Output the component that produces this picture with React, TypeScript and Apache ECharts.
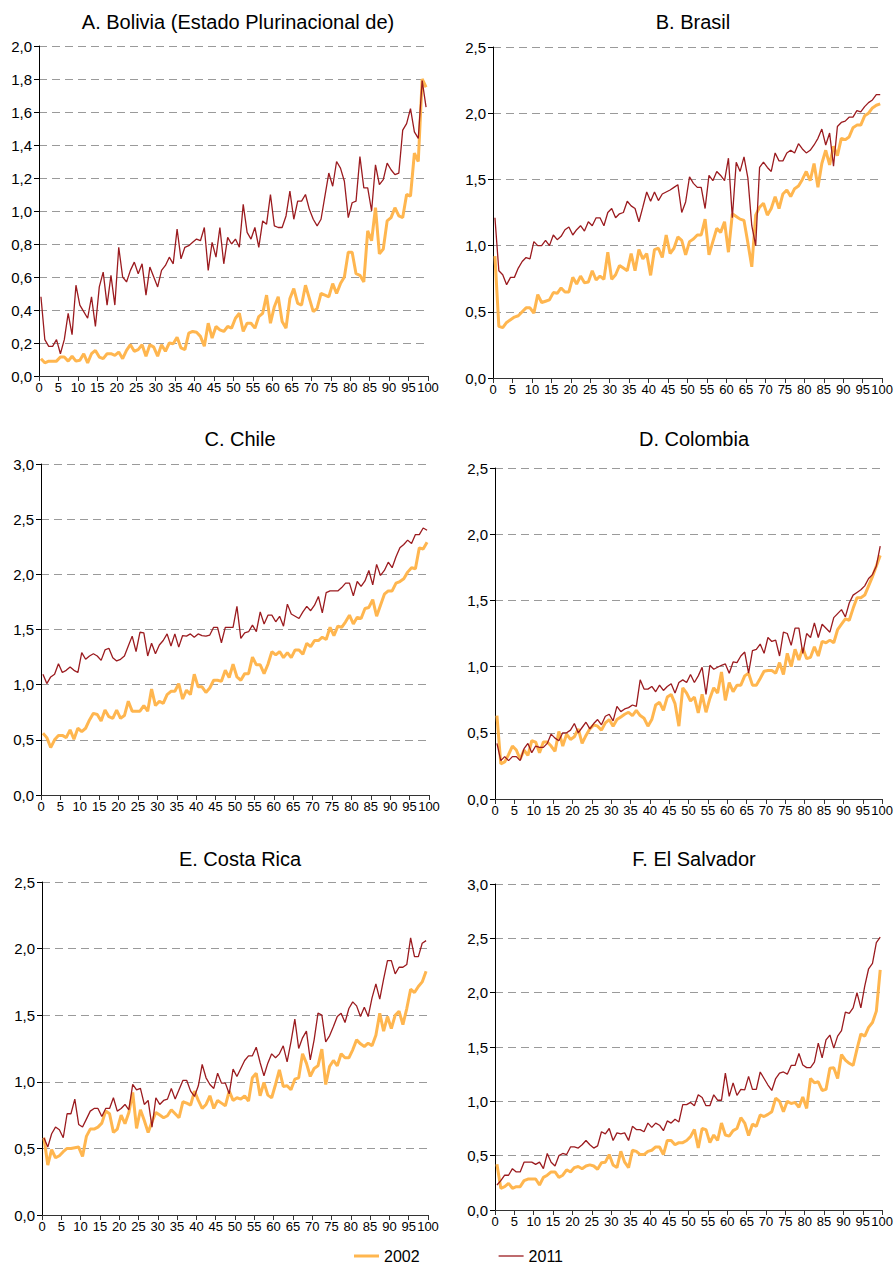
import React, { useEffect, useRef } from "react";
import * as echarts from "echarts";

// Percentile positions (centres of the 100 percentile bins)
const percentiles: number[] = Array.from({ length: 100 }, (_, i) => i + 0.5);
const xTicks: number[] = [0, 5, 10, 15, 20, 25, 30, 35, 40, 45, 50, 55, 60, 65, 70, 75, 80, 85, 90, 95, 100];

const seriesNames = ["2002", "2011"];
const titles = [
  "A. Bolivia (Estado Plurinacional de)",
  "B. Brasil",
  "C. Chile",
  "D. Colombia",
  "E. Costa Rica",
  "F. El Salvador",
];
const yMax = [2.0, 2.5, 3.0, 2.5, 2.5, 3.0];
const yStep = [0.2, 0.5, 0.5, 0.5, 0.5, 0.5];

const bolivia2002 = [
  0.105, 0.08, 0.09, 0.09, 0.09, 0.115, 0.115, 0.09, 0.12, 0.09, 0.095, 0.135, 0.08, 0.135, 0.155, 0.115, 0.105, 0.135, 0.135, 0.125,
  0.145, 0.105, 0.155, 0.19, 0.15, 0.16, 0.19, 0.12, 0.19, 0.175, 0.12, 0.19, 0.15, 0.2, 0.195, 0.235, 0.17, 0.16, 0.26, 0.27,
  0.265, 0.24, 0.18, 0.32, 0.23, 0.3, 0.28, 0.27, 0.3, 0.29, 0.35, 0.38,
  0.27, 0.32, 0.32, 0.29, 0.36, 0.38, 0.49, 0.32, 0.42, 0.48, 0.33, 0.29, 0.47, 0.53, 0.44, 0.43, 0.55, 0.47, 0.39, 0.41,
  0.5, 0.49, 0.48, 0.56, 0.5, 0.56, 0.6, 0.75, 0.75, 0.62, 0.61, 0.57, 0.88, 0.82, 1.02, 0.74, 0.77, 0.94, 0.96, 1.02,
  0.97, 0.96, 1.1, 1.09, 1.35, 1.3, 1.8, 1.75,
];
const bolivia2011 = [
  0.48, 0.22, 0.18, 0.18, 0.22, 0.135, 0.22, 0.38, 0.25, 0.55, 0.43, 0.39, 0.35, 0.48, 0.3, 0.54, 0.63, 0.43, 0.61, 0.43,
  0.78, 0.6, 0.57, 0.64, 0.69, 0.62, 0.68, 0.49, 0.66, 0.6, 0.54, 0.64, 0.67, 0.72, 0.68, 0.89, 0.71, 0.78, 0.79, 0.81,
  0.83, 0.82, 0.9, 0.64, 0.81, 0.72, 0.9, 0.68, 0.84, 0.8, 0.83, 0.78,
  1.04, 0.87, 0.83, 0.9, 0.78, 0.94, 0.92, 1.1, 0.91, 0.9, 0.9, 0.97, 1.12, 0.95, 1.06, 1.06, 1.1, 1.01, 0.95, 0.91,
  0.95, 1.09, 1.23, 1.15, 1.3, 1.26, 1.18, 0.96, 1.05, 1.06, 1.33, 1.14, 1.14, 1.0, 1.28, 1.16, 1.19, 1.29, 1.25, 1.22,
  1.23, 1.49, 1.53, 1.62, 1.48, 1.44, 1.79, 1.63,
];
const brasil2002 = [
  0.92, 0.39, 0.38, 0.42, 0.44, 0.46, 0.47, 0.5, 0.53, 0.53, 0.49, 0.63, 0.57, 0.58, 0.59, 0.645, 0.64, 0.68, 0.65, 0.65,
  0.76, 0.71, 0.77, 0.72, 0.725, 0.81, 0.74, 0.77, 0.745, 0.95, 0.745, 0.78, 0.85, 0.83, 0.81, 0.94, 0.81, 0.97, 0.9, 0.94,
  0.775, 0.97, 0.98, 0.91, 1.08, 0.94, 0.98, 1.065, 1.04, 0.93, 1.03,
  1.05, 1.08, 1.08, 1.2, 0.93, 1.03, 1.13, 1.1, 1.18, 0.95, 1.24, 1.22, 1.2, 1.19, 1.02, 0.84, 1.23, 1.29, 1.32, 1.23,
  1.28, 1.37, 1.28, 1.39, 1.42, 1.37, 1.43, 1.45, 1.5, 1.56, 1.49, 1.62, 1.44, 1.62, 1.72, 1.61, 1.75, 1.68, 1.81, 1.8,
  1.82, 1.89, 1.91, 1.91, 1.98, 2.0, 2.04, 2.06, 2.07,
];
const brasil2011 = [
  1.21, 0.81, 0.78, 0.705, 0.76, 0.76, 0.83, 0.88, 0.91, 0.9, 1.03, 1.0, 1.0, 1.04, 1.0, 1.08, 1.045, 1.07, 1.12, 1.14,
  1.08, 1.12, 1.15, 1.11, 1.18, 1.15, 1.21, 1.21, 1.15, 1.25, 1.28, 1.21, 1.24, 1.25, 1.335, 1.3, 1.28, 1.18, 1.29, 1.405,
  1.335, 1.405, 1.34, 1.39, 1.405, 1.42, 1.44, 1.46, 1.25, 1.33, 1.52,
  1.47, 1.44, 1.44, 1.28, 1.53, 1.49, 1.56, 1.53, 1.49, 1.66, 1.21, 1.63, 1.56, 1.67, 1.51, 1.15, 1.0, 1.59, 1.63, 1.59,
  1.56, 1.7, 1.64, 1.64, 1.7, 1.72, 1.7, 1.77, 1.73, 1.7, 1.72, 1.76, 1.81, 1.88, 1.76, 1.85, 1.6, 1.9, 1.93, 1.94,
  1.97, 1.97, 2.02, 2.01, 2.05, 2.08, 2.1, 2.14, 2.14,
];
const chile2002 = [
  0.56, 0.52, 0.43, 0.5, 0.54, 0.54, 0.52, 0.59, 0.505, 0.605, 0.575, 0.605, 0.68, 0.74, 0.73, 0.67, 0.77, 0.71, 0.695, 0.77,
  0.695, 0.72, 0.85, 0.76, 0.76, 0.76, 0.81, 0.76, 0.96, 0.81, 0.85, 0.83, 0.91, 0.94, 0.94, 1.01, 0.87, 0.95, 0.91, 1.095,
  0.98, 0.98, 0.93, 0.97, 1.04, 1.04, 1.03, 1.13, 1.065, 1.185, 1.07, 1.04,
  1.1, 1.1, 1.25, 1.18, 1.18, 1.1, 1.185, 1.3, 1.27, 1.3, 1.245, 1.29, 1.245, 1.315, 1.315, 1.275, 1.375, 1.345, 1.4, 1.4,
  1.43, 1.41, 1.52, 1.445, 1.53, 1.52, 1.57, 1.63, 1.55, 1.61, 1.6, 1.69, 1.7, 1.77, 1.62, 1.72, 1.82, 1.85, 1.85, 1.92,
  1.935, 1.96, 2.02, 2.06, 2.05, 2.24, 2.23, 2.29,
];
const chile2011 = [
  1.095, 1.01, 1.07, 1.095, 1.19, 1.11, 1.13, 1.16, 1.13, 1.11, 1.29, 1.23, 1.26, 1.28, 1.26, 1.22, 1.315, 1.33, 1.245, 1.215,
  1.23, 1.26, 1.35, 1.44, 1.3, 1.475, 1.47, 1.26, 1.375, 1.28, 1.36, 1.4, 1.46, 1.35, 1.46, 1.34, 1.445, 1.44, 1.46, 1.43,
  1.46, 1.445, 1.44, 1.45, 1.52, 1.52, 1.38, 1.52, 1.52, 1.52, 1.71, 1.42,
  1.47, 1.48, 1.54, 1.48, 1.66, 1.55, 1.63, 1.63, 1.57, 1.62, 1.53, 1.73, 1.64, 1.62, 1.6, 1.66, 1.71, 1.67, 1.72, 1.8,
  1.65, 1.835, 1.85, 1.85, 1.85, 1.88, 1.92, 1.92, 1.805, 1.935, 1.89, 1.94, 2.035, 1.905, 2.09, 1.99, 2.035, 2.11, 2.06, 2.16,
  2.24, 2.27, 2.31, 2.28, 2.36, 2.36, 2.42, 2.4,
];
const colombia2002 = [
  0.63, 0.265, 0.28, 0.335, 0.4, 0.37, 0.3, 0.37, 0.33, 0.44, 0.43, 0.35, 0.43, 0.43, 0.4, 0.36, 0.51, 0.4, 0.49, 0.45,
  0.47, 0.53, 0.42, 0.48, 0.53, 0.56, 0.55, 0.52, 0.575, 0.6, 0.55, 0.6, 0.62, 0.64, 0.655, 0.63, 0.67, 0.63, 0.61, 0.55,
  0.6, 0.71, 0.73, 0.67, 0.77, 0.79, 0.72, 0.55, 0.84, 0.8, 0.74,
  0.77, 0.65, 0.79, 0.655, 0.76, 0.84, 0.8, 0.96, 0.745, 0.88, 0.81, 0.86, 0.86, 0.93, 0.95, 0.86, 0.86, 0.91, 0.965, 0.97,
  0.97, 0.95, 1.03, 0.94, 1.1, 1.0, 1.13, 1.05, 1.14, 1.06, 1.07, 1.15, 1.08, 1.19, 1.18, 1.2, 1.18, 1.28, 1.32, 1.36,
  1.35, 1.44, 1.52, 1.52, 1.54, 1.61, 1.68, 1.76, 1.84,
];
const colombia2011 = [
  0.42, 0.29, 0.32, 0.29, 0.32, 0.32, 0.29, 0.38, 0.42, 0.35, 0.4, 0.39, 0.39, 0.42, 0.49, 0.46, 0.44, 0.5, 0.5, 0.52,
  0.57, 0.5, 0.54, 0.58, 0.53, 0.57, 0.6, 0.56, 0.625, 0.64, 0.59, 0.7, 0.66, 0.68, 0.69, 0.71, 0.7, 0.9, 0.83, 0.83,
  0.85, 0.81, 0.86, 0.82, 0.85, 0.87, 0.8, 0.88, 0.9, 0.88, 0.94,
  0.88, 0.93, 0.995, 0.79, 1.01, 0.98, 0.995, 1.01, 1.02, 0.95, 1.035, 1.03, 1.08, 1.11, 0.95, 1.12, 1.13, 1.17, 1.1, 1.22,
  1.19, 1.2, 1.08, 1.26, 1.25, 1.16, 1.29, 1.29, 1.1, 1.25, 1.22, 1.33, 1.22, 1.32, 1.29, 1.26, 1.37, 1.4, 1.43, 1.375,
  1.48, 1.54, 1.56, 1.58, 1.61, 1.665, 1.695, 1.76, 1.91,
];
const costaRica2002 = [
  0.58, 0.375, 0.49, 0.43, 0.445, 0.475, 0.5, 0.5, 0.505, 0.51, 0.44, 0.59, 0.645, 0.645, 0.66, 0.69, 0.78, 0.76, 0.62, 0.645,
  0.75, 0.685, 0.77, 0.92, 0.65, 0.79, 0.71, 0.62, 0.7, 0.77, 0.75, 0.73, 0.745, 0.79, 0.76, 0.73, 0.85, 0.84, 0.825, 0.93,
  0.86, 0.8, 0.83, 0.895, 0.8, 0.86, 0.84, 0.82, 0.93, 0.86, 0.88, 0.87,
  0.895, 0.855, 1.03, 1.065, 0.895, 0.995, 0.9, 0.88, 0.98, 1.09, 0.965, 0.97, 0.94, 1.02, 1.03, 1.21, 1.14, 1.04, 1.1, 1.12,
  1.245, 0.98, 1.115, 1.16, 1.12, 1.21, 1.18, 1.18, 1.24, 1.315, 1.285, 1.265, 1.29, 1.27, 1.35, 1.515, 1.38, 1.49, 1.4, 1.5,
  1.53, 1.43, 1.55, 1.695, 1.67, 1.715, 1.75, 1.83,
];
const costaRica2011 = [
  0.58, 0.51, 0.61, 0.66, 0.64, 0.58, 0.76, 0.76, 0.87, 0.68, 0.66, 0.72, 0.78, 0.8, 0.8, 0.74, 0.8, 0.8, 0.88, 0.78,
  0.8, 0.83, 0.79, 0.98, 0.94, 0.95, 0.83, 0.86, 0.66, 0.88, 0.83, 0.86, 0.87, 0.95, 0.87, 0.94, 1.01, 1.01, 0.93, 0.89,
  0.97, 1.13, 1.03, 0.98, 0.95, 1.065, 0.99, 0.99, 0.91, 1.095, 1.04, 1.1,
  1.16, 1.195, 1.195, 1.26, 1.145, 1.045, 1.14, 1.21, 1.18, 1.21, 1.27, 1.15, 1.3, 1.47, 1.25, 1.33, 1.38, 1.165, 1.315, 1.515,
  1.5, 1.3, 1.345, 1.415, 1.49, 1.515, 1.445, 1.55, 1.6, 1.57, 1.49, 1.56, 1.49, 1.63, 1.735, 1.62, 1.77, 1.91, 1.91, 1.81,
  1.86, 1.86, 1.88, 2.08, 1.94, 1.94, 2.04, 2.06,
];
const elSalvador2002 = [
  0.42, 0.2, 0.215, 0.245, 0.2, 0.215, 0.215, 0.27, 0.285, 0.285, 0.285, 0.23, 0.3, 0.32, 0.35, 0.35, 0.3, 0.32, 0.37, 0.35,
  0.39, 0.4, 0.38, 0.405, 0.415, 0.405, 0.375, 0.435, 0.44, 0.51, 0.415, 0.39, 0.54, 0.44, 0.39, 0.55, 0.54, 0.51, 0.51, 0.54,
  0.55, 0.58, 0.58, 0.51, 0.64, 0.64, 0.6, 0.62, 0.62, 0.64, 0.675,
  0.74, 0.57, 0.75, 0.74, 0.62, 0.69, 0.64, 0.8, 0.69, 0.68, 0.73, 0.75, 0.85, 0.8, 0.685, 0.79, 0.77, 0.875, 0.86, 0.88,
  0.905, 1.03, 1.0, 0.905, 1.0, 0.98, 0.99, 0.945, 1.04, 0.935, 1.21, 1.17, 1.18, 1.1, 1.11, 1.305, 1.31, 1.21, 1.43, 1.38,
  1.35, 1.33, 1.48, 1.62, 1.6, 1.68, 1.725, 1.83, 2.21,
];
const elSalvador2011 = [
  0.23, 0.27, 0.32, 0.32, 0.38, 0.35, 0.35, 0.44, 0.44, 0.44, 0.42, 0.44, 0.38, 0.52, 0.44, 0.405, 0.5, 0.52, 0.51, 0.58,
  0.58, 0.57, 0.6, 0.64, 0.6, 0.57, 0.59, 0.72, 0.7, 0.75, 0.64, 0.71, 0.7, 0.71, 0.64, 0.77, 0.74, 0.74, 0.72, 0.8,
  0.76, 0.8, 0.78, 0.73, 0.82, 0.8, 0.835, 0.81, 0.97, 0.97, 0.99,
  0.96, 1.06, 1.035, 0.96, 0.96, 1.06, 1.01, 1.01, 1.26, 1.045, 1.17, 1.055, 1.11, 1.105, 1.23, 1.11, 1.11, 1.27, 1.21, 1.15,
  1.1, 1.21, 1.26, 1.27, 1.25, 1.33, 1.33, 1.44, 1.335, 1.31, 1.31, 1.36, 1.535, 1.4, 1.565, 1.61, 1.49, 1.6, 1.65, 1.82,
  1.81, 1.86, 2.0, 1.86, 2.06, 2.22, 2.27, 2.46, 2.51,
];

const values2002 = [bolivia2002, brasil2002, chile2002, colombia2002, costaRica2002, elSalvador2002];
const values2011 = [bolivia2011, brasil2011, chile2011, colombia2011, costaRica2011, elSalvador2011];

// Layout (pixels)
const gridBoxes = [
  { left: 39, top: 46, width: 389, height: 330 },
  { left: 493, top: 47, width: 390, height: 331 },
  { left: 41, top: 464, width: 388, height: 331 },
  { left: 495, top: 468, width: 388, height: 331 },
  { left: 42, top: 882, width: 386, height: 333 },
  { left: 495, top: 884, width: 388, height: 326 },
];
const titlePos = [
  { x: 233, y: 7 },
  { x: 688, y: 7 },
  { x: 235, y: 424 },
  { x: 689, y: 424 },
  { x: 235, y: 844 },
  { x: 689, y: 844 },
];

const FONT = "'Liberation Sans', Arial, Helvetica, sans-serif";
const ORANGE = "#FFB64F";
const DARKRED = "#9B1B1F";

export default function App() {
  const ref = useRef<HTMLDivElement>(null);

  useEffect(() => {
    if (!ref.current) return;
    const chart = echarts.init(ref.current, undefined, { renderer: "svg" });
    const fmt = (v: number) => v.toFixed(1).replace(".", ",");

    const option: any = {
      animation: false,
      backgroundColor: "#ffffff",
      textStyle: { fontFamily: FONT },
      title: titles.map((t, i) => ({
        text: t,
        left: titlePos[i].x,
        top: titlePos[i].y,
        textAlign: "center",
        textStyle: { fontFamily: FONT, fontSize: 20, fontWeight: "normal", color: "#000" },
      })),
      grid: gridBoxes.map((g) => ({ ...g, containLabel: false })),
      xAxis: gridBoxes.map((_, i) => ({
        type: "value",
        gridIndex: i,
        min: xTicks[0],
        max: xTicks[xTicks.length - 1],
        interval: 5,
        axisLine: { show: true, onZero: false, lineStyle: { color: "#333", width: 1 } },
        axisTick: { show: true, length: 5, lineStyle: { color: "#333" } },
        axisLabel: { fontSize: 13, color: "#000", margin: 5, fontFamily: FONT },
        splitLine: { show: false },
      })),
      yAxis: gridBoxes.map((_, i) => ({
        type: "value",
        gridIndex: i,
        min: 0,
        max: yMax[i],
        interval: yStep[i],
        axisLine: { show: true, onZero: false, lineStyle: { color: "#000", width: 1 } },
        axisTick: { show: true, length: 5, lineStyle: { color: "#000" } },
        axisLabel: { formatter: fmt, fontSize: 15, color: "#000", margin: 7, fontFamily: FONT },
        splitLine: { show: true, lineStyle: { color: "#9a9a9a", width: 1, type: [8, 5] } },
      })),
      legend: {
        data: [
          { name: seriesNames[0], icon: "path://M0,0H25V3H0Z" },
          { name: seriesNames[1], icon: "path://M0,0H25V1.3H0Z" },
        ],
        symbolKeepAspect: true,
        top: 1246,
        left: 352,
        padding: 2,
        itemGap: 79,
        itemWidth: 25,
        itemHeight: 16,
        textStyle: { fontSize: 16, color: "#000", fontFamily: FONT },
      },
      series: gridBoxes.flatMap((_, i) => [
        {
          name: seriesNames[0],
          type: "line",
          xAxisIndex: i,
          yAxisIndex: i,
          symbol: "none",
          data: values2002[i].map((v, k) => [percentiles[k], v]),
          lineStyle: { color: ORANGE, width: 3 },
          itemStyle: { color: ORANGE },
          z: 2,
        },
        {
          name: seriesNames[1],
          type: "line",
          xAxisIndex: i,
          yAxisIndex: i,
          symbol: "none",
          data: values2011[i].map((v, k) => [percentiles[k], v]),
          lineStyle: { color: DARKRED, width: 1.3 },
          itemStyle: { color: DARKRED },
          z: 3,
        },
      ]),
    };

    chart.setOption(option);
    return () => chart.dispose();
  }, []);

  return (
    <div
      ref={ref}
      style={{ position: "absolute", left: 0, top: 0, width: 896, height: 1271, background: "#fff" }}
    />
  );
}
